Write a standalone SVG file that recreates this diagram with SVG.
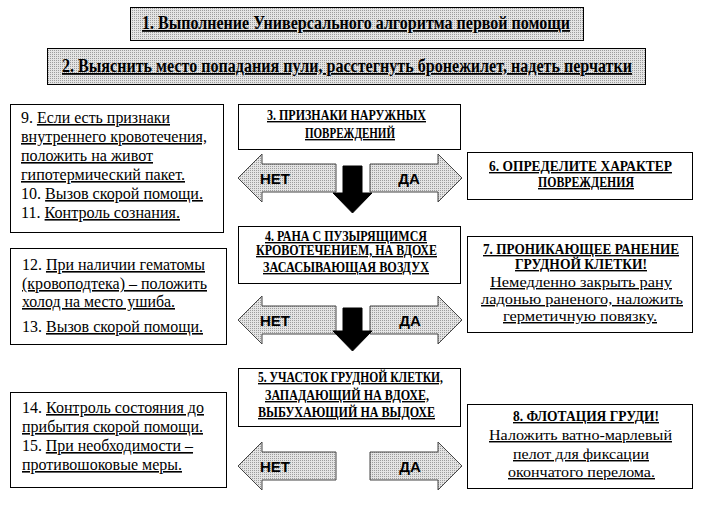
<svg xmlns="http://www.w3.org/2000/svg" width="704" height="506" viewBox="0 0 704 506">
<style>
.box{fill:#fff;stroke:#000;stroke-width:1}
.gbox{fill:url(#dots);stroke:#000;stroke-width:1}
.t{font-family:'Liberation Serif','Times New Roman',serif;font-size:16px;fill:#000}
.t2{font-family:'Liberation Serif','Times New Roman',serif;font-size:14.5px;fill:#000}
.h{font-family:'Liberation Serif','Times New Roman',serif;font-size:14px;font-weight:bold;fill:#000}
.big{font-family:'Liberation Serif','Times New Roman',serif;font-size:18px;font-weight:bold;fill:#000}
.u{text-decoration:underline}
.arr{fill:url(#dots);stroke:#444;stroke-width:1}
.blk{fill:#000;stroke:#000}
.yn{font-family:'Liberation Sans',Arial,sans-serif;font-size:15px;font-weight:bold;fill:#000}
</style>
<defs>
<pattern id="dots" width="2" height="2" patternUnits="userSpaceOnUse">
<rect width="2" height="2" fill="#e4e4e4"/><rect width="1" height="1" fill="#9c9c9c"/>
</pattern>
</defs>
<rect width="704" height="506" fill="#fff"/>

<g id="n1">
<rect class="gbox" x="130.5" y="7.5" width="453" height="33"/>
<text class="big u" x="142" y="29" textLength="428" lengthAdjust="spacingAndGlyphs">1. Выполнение Универсального алгоритма первой помощи</text>
</g>
<g id="n2">
<rect class="gbox" x="47.5" y="48.5" width="598" height="36"/>
<text class="big u" x="62" y="72" textLength="570" lengthAdjust="spacingAndGlyphs">2. Выяснить место попадания пули, расстегнуть бронежилет, надеть перчатки</text>
</g>

<g id="n9">
<rect class="box" x="10.5" y="104.5" width="213" height="128"/>
<text class="t" x="21" y="123" textLength="149" lengthAdjust="spacingAndGlyphs">9. <tspan class="u">Если есть признаки</tspan></text>
<text class="t u" x="21" y="142" textLength="186" lengthAdjust="spacingAndGlyphs">внутреннего кровотечения,</text>
<text class="t u" x="21" y="161" textLength="132" lengthAdjust="spacingAndGlyphs">положить на живот</text>
<text class="t u" x="21" y="180" textLength="164" lengthAdjust="spacingAndGlyphs">гипотермический пакет.</text>
<text class="t" x="21" y="199" textLength="182" lengthAdjust="spacingAndGlyphs">10. <tspan class="u">Вызов скорой помощи.</tspan></text>
<text class="t" x="21" y="218" textLength="159" lengthAdjust="spacingAndGlyphs">11. <tspan class="u">Контроль сознания.</tspan></text>
</g>

<g id="n12">
<rect class="box" x="10.5" y="248.5" width="216" height="96"/>
<text class="t" x="22" y="270" textLength="183" lengthAdjust="spacingAndGlyphs">12. <tspan class="u">При наличии гематомы</tspan></text>
<text class="t u" x="22" y="289" textLength="185" lengthAdjust="spacingAndGlyphs">(кровоподтека) – положить</text>
<text class="t u" x="22" y="307" textLength="153" lengthAdjust="spacingAndGlyphs">холод на место ушиба.</text>
<text class="t" x="22" y="332" textLength="181" lengthAdjust="spacingAndGlyphs">13. <tspan class="u">Вызов скорой помощи.</tspan></text>
</g>

<g id="n14">
<rect class="box" x="10.5" y="392.5" width="216" height="95"/>
<text class="t" x="22" y="413" textLength="182" lengthAdjust="spacingAndGlyphs">14. <tspan class="u">Контроль состояния до</tspan></text>
<text class="t u" x="22" y="432" textLength="181" lengthAdjust="spacingAndGlyphs">прибытия скорой помощи.</text>
<text class="t" x="22" y="451" textLength="171" lengthAdjust="spacingAndGlyphs">15. <tspan class="u">При необходимости –</tspan></text>
<text class="t u" x="22" y="470" textLength="160" lengthAdjust="spacingAndGlyphs">противошоковые меры.</text>
</g>

<g id="n3">
<rect class="box" x="238.5" y="104.5" width="222" height="45"/>
<text class="h u" x="267" y="120" textLength="159" lengthAdjust="spacingAndGlyphs">3. ПРИЗНАКИ НАРУЖНЫХ</text>
<text class="h u" x="305" y="138" textLength="90" lengthAdjust="spacingAndGlyphs">ПОВРЕЖДЕНИЙ</text>
</g>

<g id="n4">
<rect class="box" x="238.5" y="226.5" width="222" height="57"/>
<text class="h u" x="265" y="241" textLength="162" lengthAdjust="spacingAndGlyphs">4. РАНА С ПУЗЫРЯЩИМСЯ</text>
<text class="h u" x="256" y="255" textLength="181" lengthAdjust="spacingAndGlyphs">КРОВОТЕЧЕНИЕМ, НА ВДОХЕ</text>
<text class="h u" x="263" y="272" textLength="166" lengthAdjust="spacingAndGlyphs">ЗАСАСЫВАЮЩАЯ ВОЗДУХ</text>
</g>

<g id="n5">
<rect class="box" x="238.5" y="368.5" width="222" height="58"/>
<text class="h u" x="258" y="382" textLength="185" lengthAdjust="spacingAndGlyphs">5. УЧАСТОК ГРУДНОЙ КЛЕТКИ,</text>
<text class="h u" x="265" y="400" textLength="164" lengthAdjust="spacingAndGlyphs">ЗАПАДАЮЩИЙ НА ВДОХЕ,</text>
<text class="h u" x="258" y="417" textLength="177" lengthAdjust="spacingAndGlyphs">ВЫБУХАЮЩИЙ НА ВЫДОХЕ</text>
</g>

<g id="n6">
<rect class="box" x="467.5" y="152.5" width="225" height="47"/>
<text class="h u" x="489" y="171" textLength="183" lengthAdjust="spacingAndGlyphs">6. ОПРЕДЕЛИТЕ ХАРАКТЕР</text>
<text class="h u" x="538" y="187" textLength="96" lengthAdjust="spacingAndGlyphs">ПОВРЕЖДЕНИЯ</text>
</g>

<g id="n7">
<rect class="box" x="467.5" y="236.5" width="225" height="96"/>
<text class="h u" x="483" y="254" textLength="196" lengthAdjust="spacingAndGlyphs">7. ПРОНИКАЮЩЕЕ РАНЕНИЕ</text>
<text class="h u" x="515" y="269" textLength="132" lengthAdjust="spacingAndGlyphs">ГРУДНОЙ КЛЕТКИ!</text>
<text class="t2 u" x="490" y="287" textLength="182" lengthAdjust="spacingAndGlyphs">Немедленно закрыть рану</text>
<text class="t2 u" x="481" y="304" textLength="202" lengthAdjust="spacingAndGlyphs">ладонью раненого, наложить</text>
<text class="t2 u" x="503" y="321" textLength="154" lengthAdjust="spacingAndGlyphs">герметичную повязку.</text>
</g>

<g id="n8">
<rect class="box" x="467.5" y="404.5" width="225" height="84"/>
<text class="h u" x="513" y="421" textLength="146" lengthAdjust="spacingAndGlyphs">8. ФЛОТАЦИЯ ГРУДИ!</text>
<text class="t2 u" x="489" y="440" textLength="183" lengthAdjust="spacingAndGlyphs">Наложить ватно-марлевый</text>
<text class="t2 u" x="513" y="459" textLength="136" lengthAdjust="spacingAndGlyphs">пелот для фиксации</text>
<text class="t2 u" x="508" y="477" textLength="147" lengthAdjust="spacingAndGlyphs">окончатого перелома.</text>
</g>

<g id="connectors">
<polygon class="arr" points="238,178 262,154 262,164 336,164 336,192 262,192 262,202"/>
<text class="yn" x="275" y="184" text-anchor="middle">НЕТ</text>
<polygon class="arr" points="370,164 438,164 438,154 462,178 438,202 438,192 370,192"/>
<text class="yn" x="409" y="184" text-anchor="middle">ДА</text>
<polygon class="blk" points="343,166 362,166 362,193 372,193 352.5,213 333,193 343,193"/>

<polygon class="arr" points="238,320 262,296 262,306 336,306 336,334 262,334 262,344"/>
<text class="yn" x="275" y="326" text-anchor="middle">НЕТ</text>
<polygon class="arr" points="370,306 438,306 438,296 462,320 438,344 438,334 370,334"/>
<text class="yn" x="410" y="326" text-anchor="middle">ДА</text>
<polygon class="blk" points="343,308 362,308 362,331 372,331 352.5,351 333,331 343,331"/>

<polygon class="arr" points="238,466 262,442 262,452 336,452 336,480 262,480 262,490"/>
<text class="yn" x="275" y="472" text-anchor="middle">НЕТ</text>
<polygon class="arr" points="370,452 438,452 438,442 462,466 438,490 438,480 370,480"/>
<text class="yn" x="410" y="472" text-anchor="middle">ДА</text>
</g>
</svg>
